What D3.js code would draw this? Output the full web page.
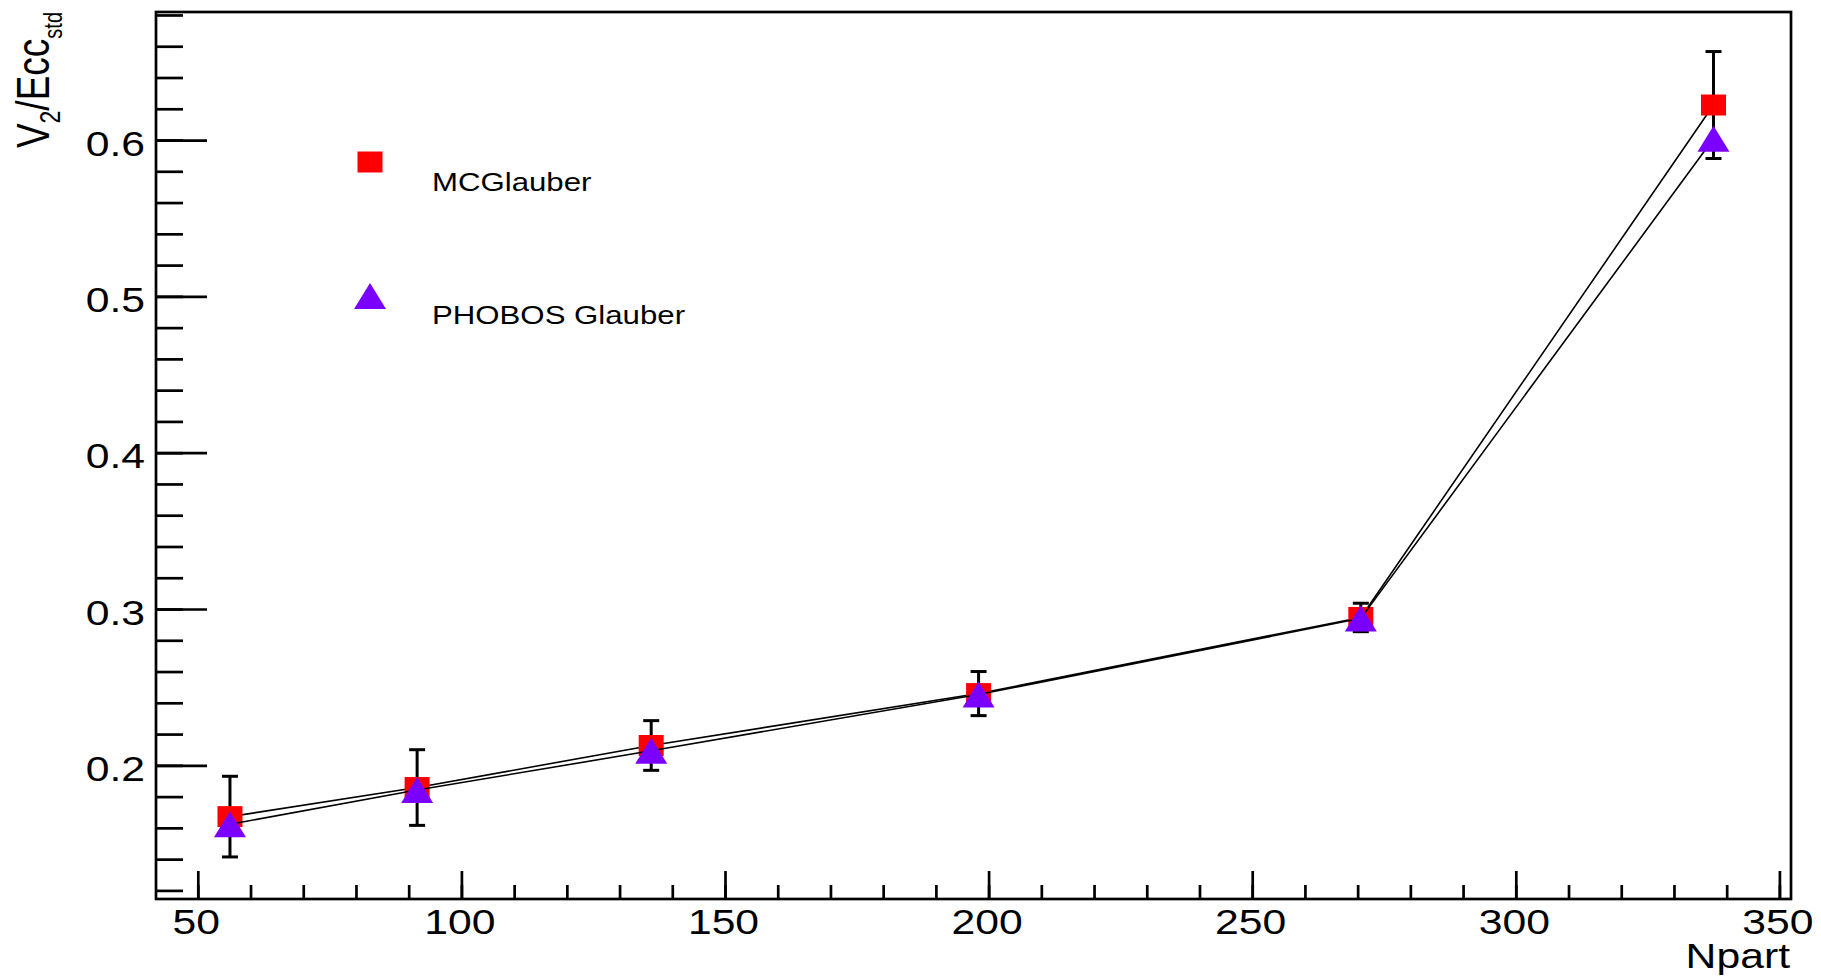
<!DOCTYPE html>
<html>
<head>
<meta charset="utf-8">
<script src="https://cdn.jsdelivr.net/npm/d3@7"></script>
<style>
  body { margin: 0; background: #fff; }
  text { font-family: "Liberation Sans", Arial, Helvetica, sans-serif; fill: #000; }
</style>
</head>
<body>
<div id="chart"></div>
<script>
/*--------------------------------------*
 *------------ Plot values -------------*
 *--------------------------------------*/

const npart = [56.1, 91.6, 136.0, 198.1, 270.6, 337.5];
const mcGlauber = [0.1672, 0.1858, 0.2127, 0.2459, 0.2946, 0.6224];
const mcGlauberErr = [0.0258, 0.0242, 0.0159, 0.0141, 0.0091, 0.0342];
const phobosGlauber = [0.1623, 0.1842, 0.2093, 0.2453, 0.2940, 0.6008];

const seriesNames = ['MCGlauber', 'PHOBOS Glauber'];
const xTicks = [50, 100, 150, 200, 250, 300, 350];
const yTicks = [0.2, 0.3, 0.4, 0.5, 0.6];
const xTitle = 'Npart';

// text in the picture is a bit wider than it is tall
const stretch = 1.22;

/*--------------------------------------*
 *------ Pre-plot initialization -------*
 *--------------------------------------*/

function initDimensions() {
    const margin = { top: 12, right: 30, bottom: 79, left: 156 },
    width = 1635,
    height = 887;
    return [ margin, width, height ];
}

function initSVG(margin, width, height) {
    return d3.select('#chart')
            .append('svg')
            .attr('width', width + margin.left + margin.right)
            .attr('height', height + margin.top + margin.bottom)
            .append('g')
            .attr('transform', 'translate(' + margin.left + ',' + margin.top + ')');
}

function initScales(width, height) {
    const xScale = d3.scaleLinear().domain([42.07, 352.2]).range([0, width]);
    const yScale = d3.scaleLinear().domain([0.1145, 0.6819]).range([height, 0]);
    return [ xScale, yScale ];
}

function styleTicks(g) {
    g.attr('font-family', null).attr('font-size', null);
    g.select('.domain').remove();
    g.selectAll('line').attr('stroke', '#000').attr('stroke-width', 2.7);
}

function initAxes(svg, xScale, yScale, width, height) {
    const xMinor = d3.range(50, 351, 10);
    const yMinor = d3.range(6, 35).map(i => i * 0.02);

    // minor ticks
    svg.append('g')
        .attr('transform', 'translate(0,' + height + ')')
        .call(d3.axisBottom(xScale).tickValues(xMinor).tickSizeInner(-14).tickSizeOuter(0).tickFormat(''))
        .call(styleTicks);
    svg.append('g')
        .call(d3.axisLeft(yScale).tickValues(yMinor).tickSizeInner(-27).tickSizeOuter(0).tickFormat(''))
        .call(styleTicks);

    // major ticks + labels
    svg.append('g')
        .attr('transform', 'translate(0,' + height + ')')
        .call(d3.axisBottom(xScale).tickValues(xTicks).tickSizeInner(-28).tickSizeOuter(0).tickFormat(d3.format('d')))
        .call(styleTicks)
        .selectAll('text')
        .attr('y', null).attr('dy', null)
        .attr('text-anchor', 'middle')
        .style('font-size', '35px')
        .attr('transform', 'translate(-2,35) scale(' + stretch + ',1)');

    svg.append('g')
        .call(d3.axisLeft(yScale).tickValues(yTicks).tickSizeInner(-51).tickSizeOuter(0).tickFormat(d3.format('.1f')))
        .call(styleTicks)
        .selectAll('text')
        .attr('x', null).attr('dy', null)
        .attr('text-anchor', 'end')
        .style('font-size', '35px')
        .attr('transform', 'translate(-11,15) scale(' + stretch + ',1)');

    // frame
    svg.append('rect')
        .attr('width', width)
        .attr('height', height)
        .attr('fill', 'none')
        .attr('stroke', '#000')
        .attr('stroke-width', 2.7);

    // axis titles
    svg.append('text')
        .attr('text-anchor', 'end')
        .style('font-size', '35px')
        .attr('transform', 'translate(' + (width - 1) + ',' + (height + 69) + ') scale(' + stretch + ',1)')
        .text(xTitle);

    const yTitle = svg.append('text')
        .attr('text-anchor', 'end')
        .style('font-size', '37px')
        .attr('transform', 'translate(-107,0) scale(1.25,1) rotate(-90)');
    yTitle.append('tspan').text('V');
    yTitle.append('tspan').attr('dy', 9).style('font-size', '23px').text('2');
    yTitle.append('tspan').attr('dy', -9).text('/Ecc');
    yTitle.append('tspan').attr('dy', 10).style('font-size', '20px').text('std');
}

/*--------------------------------------*
 *-------------- Markers ---------------*
 *--------------------------------------*/

const squarePath = 'M-12.5,-10.5H12.5V10.5H-12.5Z';
const trianglePath = 'M0,-13L16,13H-16Z';
const colors = ['#ff0000', '#7a00ff'];

/*--------------------------------------*
 *-------- Plot initialization ---------*
 *--------------------------------------*/

function initPlots(svg, xScale, yScale) {
    const line = d3.line()
                .x((d, i) => xScale(npart[i]))
                .y(d => yScale(d));

    // MCGlauber line
    svg.append('path')
        .datum(mcGlauber)
        .attr('d', line)
        .attr('fill', 'none')
        .attr('stroke', '#000')
        .attr('stroke-width', 1.6);

    // error bars
    const errs = svg.append('g')
        .selectAll('g')
        .data(mcGlauber)
        .join('g')
        .attr('stroke', '#000')
        .attr('stroke-width', 3);
    errs.append('line')
        .attr('x1', (d, i) => xScale(npart[i]))
        .attr('x2', (d, i) => xScale(npart[i]))
        .attr('y1', (d, i) => yScale(d + mcGlauberErr[i]))
        .attr('y2', (d, i) => yScale(d - mcGlauberErr[i]));
    [1, -1].forEach(s => {
        errs.append('line')
            .attr('x1', (d, i) => xScale(npart[i]) - 8)
            .attr('x2', (d, i) => xScale(npart[i]) + 8)
            .attr('y1', (d, i) => yScale(d + s * mcGlauberErr[i]))
            .attr('y2', (d, i) => yScale(d + s * mcGlauberErr[i]));
    });

    svg.append('g')
        .selectAll('path')
        .data(mcGlauber)
        .join('path')
        .attr('d', squarePath)
        .attr('fill', colors[0])
        .attr('transform', (d, i) => 'translate(' + xScale(npart[i]) + ',' + yScale(d) + ')');

    // PHOBOS line + markers
    svg.append('path')
        .datum(phobosGlauber)
        .attr('d', line)
        .attr('fill', 'none')
        .attr('stroke', '#000')
        .attr('stroke-width', 1.6);

    svg.append('g')
        .selectAll('path')
        .data(phobosGlauber)
        .join('path')
        .attr('d', trianglePath)
        .attr('fill', colors[1])
        .attr('transform', (d, i) => 'translate(' + xScale(npart[i]) + ',' + yScale(d) + ')');
}

function initLegend(svg) {
    const rows = [
        { name: seriesNames[0], shape: squarePath, color: colors[0], my: 150, ty: 179 },
        { name: seriesNames[1], shape: trianglePath, color: colors[1], my: 284, ty: 312 }
    ];
    const items = svg.append('g')
        .selectAll('g')
        .data(rows)
        .join('g');
    items.append('path')
        .attr('d', d => d.shape)
        .attr('fill', d => d.color)
        .attr('transform', d => 'translate(214,' + d.my + ')');
    items.append('text')
        .style('font-size', '26px')
        .attr('transform', d => 'translate(276,' + d.ty + ') scale(1.2,1)')
        .text(d => d.name);
}

const [ margin, width, height ] = initDimensions();
const svg = initSVG(margin, width, height);
const [ xScale, yScale ] = initScales(width, height);
initAxes(svg, xScale, yScale, width, height);
initPlots(svg, xScale, yScale);
initLegend(svg);
</script>
</body>
</html>
